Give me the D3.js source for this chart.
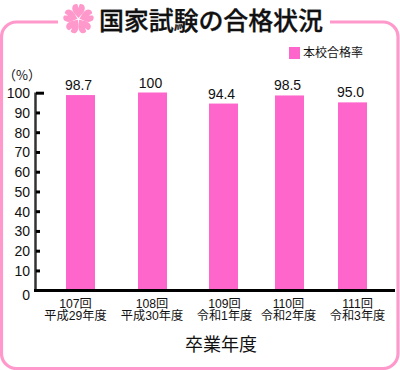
<!DOCTYPE html>
<html>
<head>
<meta charset="utf-8">
<script src="https://cdn.jsdelivr.net/npm/d3@7"></script>
<style>
html,body{margin:0;padding:0;background:#fff;}
svg{display:block;}
text{font-family:"Liberation Sans","Noto Sans CJK JP",sans-serif;fill:#111;}
.jp{font-family:"Noto Sans CJK JP",sans-serif;}
</style>
</head>
<body>
<div class="chart"></div>
<script>
const categories = ["107回","108回","109回","110回","111回"];
const eras = ["平成29年度","平成30年度","令和1年度","令和2年度","令和3年度"];
const passRate = [98.7,100,94.4,98.5,95.0];
const valueLabels = ["98.7","100","94.4","98.5","95.0"];
const yTicks = [0,10,20,30,40,50,60,70,80,90,100];
const seriesName = "本校合格率";
const axisName = "卒業年度";
const titleText = "国家試験の合格状況";

const pink = "#ff66cc";
const framePink = "#ff99cc";

let svg = d3.select(".chart").append("svg")
            .attr("width",400)
            .attr("height",370);

// frame with a gap at the top for the title
let r = 15;
let framePath = "M58,22H"+(1.5+r)+"A"+r+","+r+" 0 0 0 1.5,"+(22+r)+"V"+(368.5-r)+"A"+r+","+r+" 0 0 0 "+(1.5+r)+",368.5"
              + "H"+(398-r)+"A"+r+","+r+" 0 0 0 398,"+(368.5-r)+"V"+(22+r)+"A"+r+","+r+" 0 0 0 "+(398-r)+",22H330";
svg.append("path")
   .attr("d",framePath)
   .attr("fill","none")
   .attr("stroke",framePink)
   .attr("stroke-width",3.2);

// sakura mark
let flower = svg.append("g").attr("transform","translate(78.5,19)");
d3.range(5).forEach(i=>{
    flower.append("path")
          .attr("d","M0,-1C-3,-4.5 -7.5,-8 -6,-12.5C-5,-15 -2,-15.5 -1,-14.5L0,-11L1,-14.5C2,-15.5 5,-15 6,-12.5C7.5,-8 3,-4.5 0,-1Z")
          .attr("fill",framePink)
          .attr("transform","rotate("+(i*72)+")");
});

svg.append("text")
   .attr("class","jp")
   .attr("x",99)
   .attr("y",30)
   .attr("font-size",25)
   .attr("font-weight",500)
   .attr("textLength",224)
   .attr("stroke","#111")
   .attr("stroke-width",0.3)
   .text(titleText);

// legend
svg.append("rect")
   .attr("x",289).attr("y",47)
   .attr("width",11).attr("height",12)
   .attr("fill",pink);
svg.append("text")
   .attr("class","jp")
   .attr("x",303).attr("y",57)
   .attr("font-size",12)
   .text(seriesName);

let x_scale = d3.scaleOrdinal()
                .domain(categories)
                .range([80.5,152.5,223.5,289.5,352.5]);
let x_label = d3.scaleOrdinal()
                .domain(categories)
                .range([75.5,152,224.5,288.5,357.5]);
let y_scale = d3.scaleLinear()
                .domain([0,100])
                .range([290,92.5]);
let barWidth = 29;

svg.selectAll(".bar")
   .data(passRate)
   .enter().append("rect")
   .attr("class","bar")
   .attr("x",(d,i)=>x_scale(categories[i])-barWidth/2)
   .attr("y",d=>y_scale(d))
   .attr("width",barWidth)
   .attr("height",d=>y_scale(0)-y_scale(d))
   .attr("fill",pink);

svg.selectAll(".val")
   .data(passRate)
   .enter().append("text")
   .attr("class","val")
   .attr("x",(d,i)=>x_scale(categories[i])-2)
   .attr("y",d=>y_scale(d)-5)
   .attr("text-anchor","middle")
   .attr("font-size",14)
   .text((d,i)=>valueLabels[i]);

// y axis
let y_axis = d3.axisLeft(y_scale)
               .tickValues(yTicks)
               .tickSize(0)
               .tickPadding(6);
let yg = svg.append("g")
            .attr("transform","translate(35,0)")
            .call(y_axis);
yg.select(".domain").remove();
yg.selectAll("text")
  .attr("font-size",14)
  .attr("fill","#111")
  .attr("font-family","Liberation Sans")
  .attr("x",-5)
  .attr("dy",d=>d==0?"0.7em":"0.36em");

svg.append("line")
   .attr("x1",35.5).attr("x2",35.5)
   .attr("y1",y_scale(100)).attr("y2",y_scale(0))
   .attr("stroke","#333").attr("stroke-width",2.5);
svg.selectAll(".tick-mark")
   .data(yTicks.filter(d=>d>0))
   .enter().append("line")
   .attr("class","tick-mark")
   .attr("x1",36)
   .attr("x2",d=>d==100?44:40)
   .attr("y1",d=>y_scale(d)+0.7)
   .attr("y2",d=>y_scale(d)+0.7)
   .attr("stroke","#000")
   .attr("stroke-width",3);
svg.append("line")
   .attr("x1",34).attr("x2",395)
   .attr("y1",y_scale(0)+0.5).attr("y2",y_scale(0)+0.5)
   .attr("stroke","#000").attr("stroke-width",3);

svg.append("text")
   .attr("class","jp")
   .attr("x",3).attr("y",80)
   .attr("font-size",13)
   .text("（%）");

// category labels, two lines in one text
let cats = svg.selectAll(".cat")
   .data(categories)
   .enter().append("text")
   .attr("class","cat")
   .attr("text-anchor","middle")
   .attr("font-size",12.2);
cats.append("tspan")
    .attr("x",d=>x_label(d))
    .attr("y",307.5)
    .text(d=>d);
cats.append("tspan")
    .attr("x",d=>x_label(d))
    .attr("y",320)
    .text((d,i)=>eras[i]);

svg.append("text")
   .attr("class","jp")
   .attr("x",221)
   .attr("y",351)
   .attr("text-anchor","middle")
   .attr("font-size",18)
   .text(axisName);
</script>
</body>
</html>
